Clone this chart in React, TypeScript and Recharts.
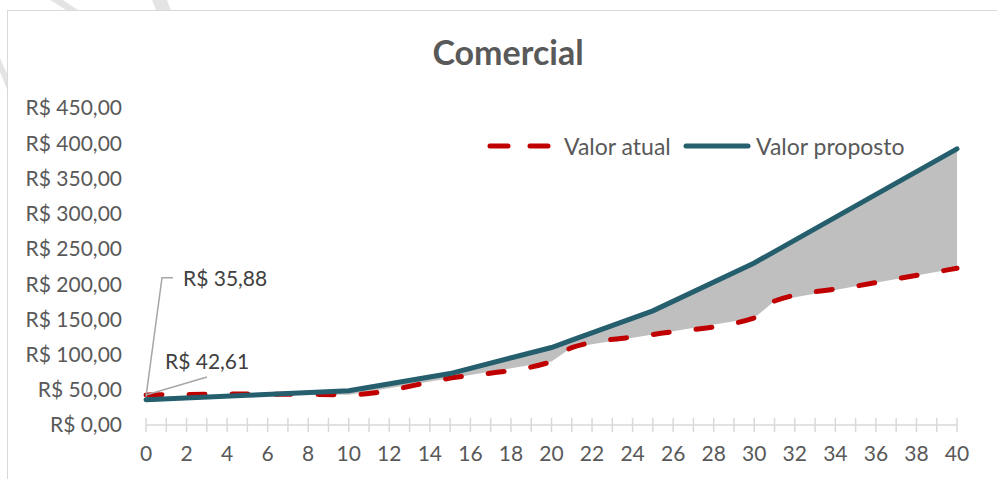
import React from "react";
import {
  ComposedChart,
  Line,
  Area,
  XAxis,
  YAxis,
  Legend,
  LabelList,
} from "recharts";

// consumo (eixo X) e valores
const consumo = [0, 5, 10, 15, 20, 21, 25, 30, 31, 35, 40];
const valorAtual = [42.61, 43.9, 43.0, 66.5, 90, 110, 128.5, 152, 176, 197, 222.5];
const valorProposto = [35.88, 42.2, 48.5, 73, 110, 120.4, 162, 230, 246.2, 311, 392];

const xTicks = Array.from({ length: 41 }, (_, i) => i);
const yTicks = [0, 50, 100, 150, 200, 250, 300, 350, 400, 450];

const RED = "#c00000";
const BLUE = "#255e6d";
const FONT = "Lato, 'Open Sans', sans-serif";
const TEXT = "#595959";

const data = consumo.map((x, i) => ({
  x,
  atual: valorAtual[i],
  proposto: valorProposto[i],
  faixa: [valorAtual[i], Math.max(valorAtual[i], valorProposto[i])],
}));

const brl = (v: number) => `R$ ${v.toFixed(2).replace(".", ",")}`;

const XTick = ({ x, y, payload }: any) => (
  <g>
    <line x1={x} x2={x} y1={y - 7} y2={y + 7} stroke="#d9d9d9" strokeWidth={1.5} />
    {payload.value % 2 === 0 && (
      <text x={x} y={y + 36} textAnchor="middle" fill={TEXT} fontSize={21} fontFamily={FONT}>
        {payload.value}
      </text>
    )}
  </g>
);

const LegendBox = () => (
  <svg width={440} height={30}>
    <line x1={15} x2={74} y1={15} y2={15} stroke={RED} strokeWidth={5} strokeDasharray="18 22" strokeLinecap="round" />
    <text x={89} y={15} dominantBaseline="central" fill={TEXT} fontSize={23} fontFamily={FONT}>
      Valor atual
    </text>
    <line x1={211} x2={273} y1={15} y2={15} stroke={BLUE} strokeWidth={5} strokeLinecap="round" />
    <text x={281} y={15} dominantBaseline="central" fill={TEXT} fontSize={23} fontFamily={FONT}>
      Valor proposto
    </text>
  </svg>
);

const labelProposto = (p: any) => {
  if (p.index !== 0) return null;
  const { x, y } = p;
  return (
    <g>
      <polyline
        points={`${x},${y - 3} ${x + 16},${y - 122} ${x + 27},${y - 122}`}
        fill="none"
        stroke="#a6a6a6"
        strokeWidth={1.5}
      />
      <text x={x + 37} y={y - 122} dominantBaseline="central" fill="#404040" fontSize={21} fontFamily={FONT}>
        {brl(valorProposto[0])}
      </text>
    </g>
  );
};

const labelAtual = (p: any) => {
  if (p.index !== 0) return null;
  const { x, y } = p;
  return (
    <g>
      <line x1={x} y1={y} x2={x + 61} y2={y - 18} stroke="#a6a6a6" strokeWidth={1.5} />
      <text x={x + 19} y={y - 34} dominantBaseline="central" fill="#404040" fontSize={21} fontFamily={FONT}>
        {brl(valorAtual[0])}
      </text>
    </g>
  );
};

export default function App() {
  return (
    <div style={{ position: "absolute", left: 0, top: 0, width: 997, height: 479, overflow: "hidden", background: "#fff" }}>
      <svg width={997} height={479} style={{ position: "absolute", left: 0, top: 0 }}>
        <polygon points="50,0 63,0 78,10 66,10" fill="#e4e4e4" />
        <polygon points="152,0 167,0 171,10 156,10" fill="#e4e4e4" />
        <polygon points="0,58 0,72 8,92 8,76" fill="#e4e4e4" />
      </svg>
      <div
        style={{
          position: "absolute",
          left: 7,
          top: 10,
          width: 1010,
          height: 490,
          border: "1.5px solid #d9d9d9",
          background: "#fff",
        }}
      />
      <div
        style={{
          position: "absolute",
          left: 0,
          top: 30,
          width: 1016,
          textAlign: "center",
          fontFamily: FONT,
          fontWeight: 700,
          fontSize: 34,
          color: TEXT,
          lineHeight: "44px",
        }}
      >
        Comercial
      </div>
      <div style={{ position: "absolute", left: 0, top: 0 }}>
        <ComposedChart width={997} height={479} data={data} margin={{ top: 108, right: 40, bottom: 14, left: 10 }}>
          <XAxis
            dataKey="x"
            type="number"
            domain={[0, 40]}
            ticks={xTicks}
            interval={0}
            tick={<XTick />}
            tickSize={0}
            tickMargin={0}
            tickLine={false}
            axisLine={{ stroke: "#d9d9d9", strokeWidth: 1.5 }}
            height={40}
          />
          <YAxis
            domain={[0, 450]}
            ticks={yTicks}
            tickFormatter={brl}
            axisLine={false}
            tickLine={false}
            tickSize={0}
            tickMargin={24}
            width={136}
            tick={{ fill: TEXT, fontSize: 21, fontFamily: FONT }}
          />
          <Legend
            layout="horizontal"
            align="center"
            verticalAlign="middle"
            content={<LegendBox />}
            wrapperStyle={{ position: "absolute", left: 475, top: 131, width: 440, height: 30 }}
          />
          <Area
            dataKey="faixa"
            type="linear"
            fill="#bfbfbf"
            fillOpacity={1}
            stroke="none"
            isAnimationActive={false}
            legendType="none"
          />
          <Line
            dataKey="atual"
            type="monotone"
            stroke={RED}
            strokeWidth={5}
            strokeDasharray="16 27"
            strokeLinecap="round"
            dot={false}
            isAnimationActive={false}
          >
            <LabelList content={labelAtual} />
          </Line>
          <Line
            dataKey="proposto"
            type="linear"
            stroke={BLUE}
            strokeWidth={5}
            strokeLinecap="round"
            dot={false}
            isAnimationActive={false}
          >
            <LabelList content={labelProposto} />
          </Line>
        </ComposedChart>
      </div>
    </div>
  );
}
